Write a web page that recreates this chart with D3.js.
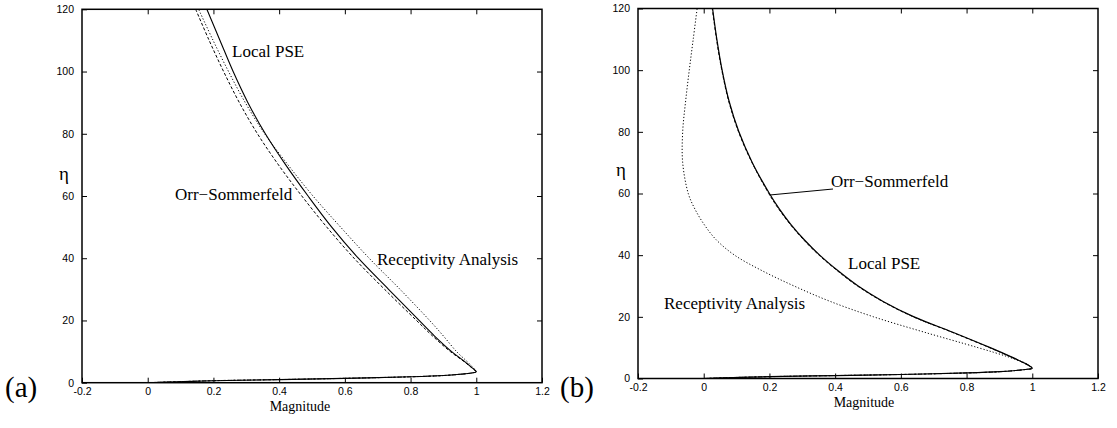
<!DOCTYPE html>
<html>
<head>
<meta charset="utf-8">
<script src="https://cdn.jsdelivr.net/npm/d3@7"></script>
<style>
  body { margin: 0; background: #fff; }
  .tick-label { font-family: "Liberation Sans", Arial, sans-serif; font-size: 10.5px; fill: #000; }
  .serif { font-family: "Liberation Serif", "Times New Roman", serif; fill: #000; }
</style>
</head>
<body>
<svg id="chart" width="1117" height="428"></svg>
<script>
/***********************************************************************************/
// Data

const xTicks = [-0.2, 0, 0.2, 0.4, 0.6, 0.8, 1, 1.2];
const yTicks = [0, 20, 40, 60, 80, 100, 120];

// panel (a)
const etaA = [0, 0.3, 0.65, 1.0, 1.4, 1.9, 2.3, 2.7, 3.1, 3.5, 4, 5, 7, 10, 15, 20, 30, 40, 50, 60, 70, 80, 90, 100, 110, 120];
const pseA = [0, 0.09, 0.2, 0.4, 0.6, 0.8, 0.9, 0.95, 0.985, 1.0, 0.996, 0.985, 0.962, 0.925, 0.873, 0.826, 0.733, 0.641, 0.56, 0.488, 0.42, 0.358, 0.305, 0.26, 0.22, 0.18];
const osA  = [0, 0.09, 0.2, 0.4, 0.6, 0.8, 0.9, 0.95, 0.985, 1.0, 0.996, 0.984, 0.96, 0.921, 0.867, 0.818, 0.721, 0.628, 0.545, 0.469, 0.398, 0.334, 0.279, 0.231, 0.187, 0.146];
const raA  = [0, 0.09, 0.2, 0.4, 0.6, 0.8, 0.9, 0.95, 0.985, 1.0, 0.997, 0.989, 0.97, 0.94, 0.9, 0.858, 0.768, 0.674, 0.587, 0.503, 0.427, 0.356, 0.297, 0.246, 0.199, 0.155];

// panel (b)
const etaB = [0, 0.3, 0.6, 0.95, 1.3, 1.8, 2.2, 2.6, 3.0, 3.3, 4, 5, 7, 10, 15, 20, 25, 30, 35, 40, 45, 50, 55, 60, 70, 80, 90, 100, 110, 120];
const pseB = [0, 0.09, 0.2, 0.4, 0.6, 0.8, 0.9, 0.95, 0.985, 1.0, 0.993, 0.976, 0.936, 0.872, 0.758, 0.64, 0.546, 0.47, 0.408, 0.353, 0.306, 0.265, 0.23, 0.2, 0.148, 0.107, 0.077, 0.056, 0.04, 0.027];
const osB  = [0, 0.09, 0.2, 0.4, 0.6, 0.8, 0.9, 0.95, 0.985, 1.0, 0.993, 0.975, 0.935, 0.87, 0.756, 0.638, 0.544, 0.468, 0.406, 0.351, 0.304, 0.263, 0.228, 0.198, 0.147, 0.106, 0.076, 0.055, 0.039, 0.026];
const raB  = [0, 0.09, 0.2, 0.4, 0.6, 0.8, 0.9, 0.95, 0.985, 1.0, 0.993, 0.978, 0.927, 0.835, 0.672, 0.517, 0.385, 0.275, 0.177, 0.094, 0.038, 0.001, -0.027, -0.047, -0.064, -0.064, -0.055, -0.044, -0.032, -0.02];

/***********************************************************************************/
// Panel drawing

const svg = d3.select('#chart');

function drawPanel(p){
  const x = d3.scaleLinear().domain([-0.2, 1.2]).range([p.left, p.right]);
  const y = d3.scaleLinear().domain([0, 120]).range([p.bottom, p.top]);
  const g = svg.append('g');

  const clipId = 'clip-' + p.tag;
  g.append('clipPath').attr('id', clipId).append('rect')
    .attr('x', p.left).attr('y', p.top)
    .attr('width', p.right - p.left).attr('height', p.bottom - p.top);

  // curves
  const line = d3.line().x(d => x(d[0])).y(d => y(d[1])).curve(d3.curveCatmullRom.alpha(0.5));
  p.series.forEach(s => {
    g.append('path')
      .datum(s.values.map((v, i) => [v, p.eta[i]]))
      .attr('d', line)
      .attr('clip-path', `url(#${clipId})`)
      .attr('fill', 'none')
      .attr('stroke', '#000')
      .attr('stroke-width', s.width)
      .attr('stroke-dasharray', s.dash);
  });

  // axes (ticks inward, mirrored on all sides)
  const tl = 5;
  const fmt = d => String(d);
  g.append('g').attr('transform', `translate(0,${p.bottom})`)
    .call(d3.axisBottom(x).tickValues(xTicks).tickSizeInner(-tl).tickSizeOuter(0).tickPadding(5).tickFormat(fmt));
  g.append('g').attr('transform', `translate(0,${p.top})`)
    .call(d3.axisTop(x).tickValues(xTicks.slice(1, -1)).tickSizeInner(-tl).tickSizeOuter(0).tickFormat(''));
  g.append('g').attr('transform', `translate(${p.left},0)`)
    .call(d3.axisLeft(y).tickValues(yTicks).tickSizeInner(-tl).tickSizeOuter(0).tickPadding(8).tickFormat(fmt));
  g.append('g').attr('transform', `translate(${p.right},0)`)
    .call(d3.axisRight(y).tickValues(yTicks.slice(1, -1)).tickSizeInner(-tl).tickSizeOuter(0).tickFormat(''));

  g.selectAll('.domain').remove();
  g.selectAll('.tick line').attr('stroke', '#000').attr('stroke-width', 1);
  g.selectAll('.tick text').attr('class', 'tick-label');
  g.selectAll('g').attr('font-size', null).attr('font-family', null);

  // frame
  g.append('rect')
    .attr('x', p.left).attr('y', p.top)
    .attr('width', p.right - p.left).attr('height', p.bottom - p.top)
    .attr('fill', 'none').attr('stroke', '#000').attr('stroke-width', 1.5);

  // axis titles
  g.append('text').attr('class', 'serif')
    .attr('x', p.magX).attr('y', p.bottom + 28)
    .attr('text-anchor', 'middle').attr('font-size', 14)
    .text('Magnitude');
  g.append('text').attr('class', 'serif')
    .attr('x', p.etaX).attr('y', p.etaY)
    .attr('text-anchor', 'middle').attr('font-size', 19)
    .text('η');
  g.append('text').attr('class', 'serif')
    .attr('x', p.tagX).attr('y', 397)
    .attr('font-size', 29)
    .text(`(${p.tag})`);

  // curve labels
  p.labels.forEach(l => {
    g.append('text').attr('class', 'serif')
      .attr('x', l.x).attr('y', l.y).attr('font-size', 17)
      .text(l.text);
    if (l.lead) {
      g.append('line')
        .attr('x1', x(l.lead[0])).attr('y1', y(l.lead[1]))
        .attr('x2', l.x + 2).attr('y2', l.y + 2)
        .attr('stroke', '#000').attr('stroke-width', 1);
    }
  });
}

/***********************************************************************************/
// Panels

drawPanel({
  tag: 'a', left: 82, right: 542, top: 9.3, bottom: 382.7,
  eta: etaA, magX: 300, etaX: 64, etaY: 180, tagX: 5,
  series: [
    { values: pseA, width: 1.1, dash: null },
    { values: osA, width: 1, dash: '3,2' },
    { values: raA, width: 1, dash: '1.2,2' }
  ],
  labels: [
    { text: 'Local PSE', x: 232, y: 57 },
    { text: 'Orr\u2212Sommerfeld', x: 175, y: 200 },
    { text: 'Receptivity Analysis', x: 377, y: 265 }
  ]
});

drawPanel({
  tag: 'b', left: 638, right: 1098, top: 8.5, bottom: 378.5,
  eta: etaB, magX: 864, etaX: 621, etaY: 176, tagX: 560,
  series: [
    { values: pseB, width: 1.2, dash: null },
    { values: osB, width: 1, dash: '3,2' },
    { values: raB, width: 1, dash: '1.2,2' }
  ],
  labels: [
    { text: 'Orr\u2212Sommerfeld', x: 831, y: 187, lead: [0.2, 59.5] },
    { text: 'Local PSE', x: 848, y: 269 },
    { text: 'Receptivity Analysis', x: 664, y: 309 }
  ]
});
</script>
</body>
</html>
